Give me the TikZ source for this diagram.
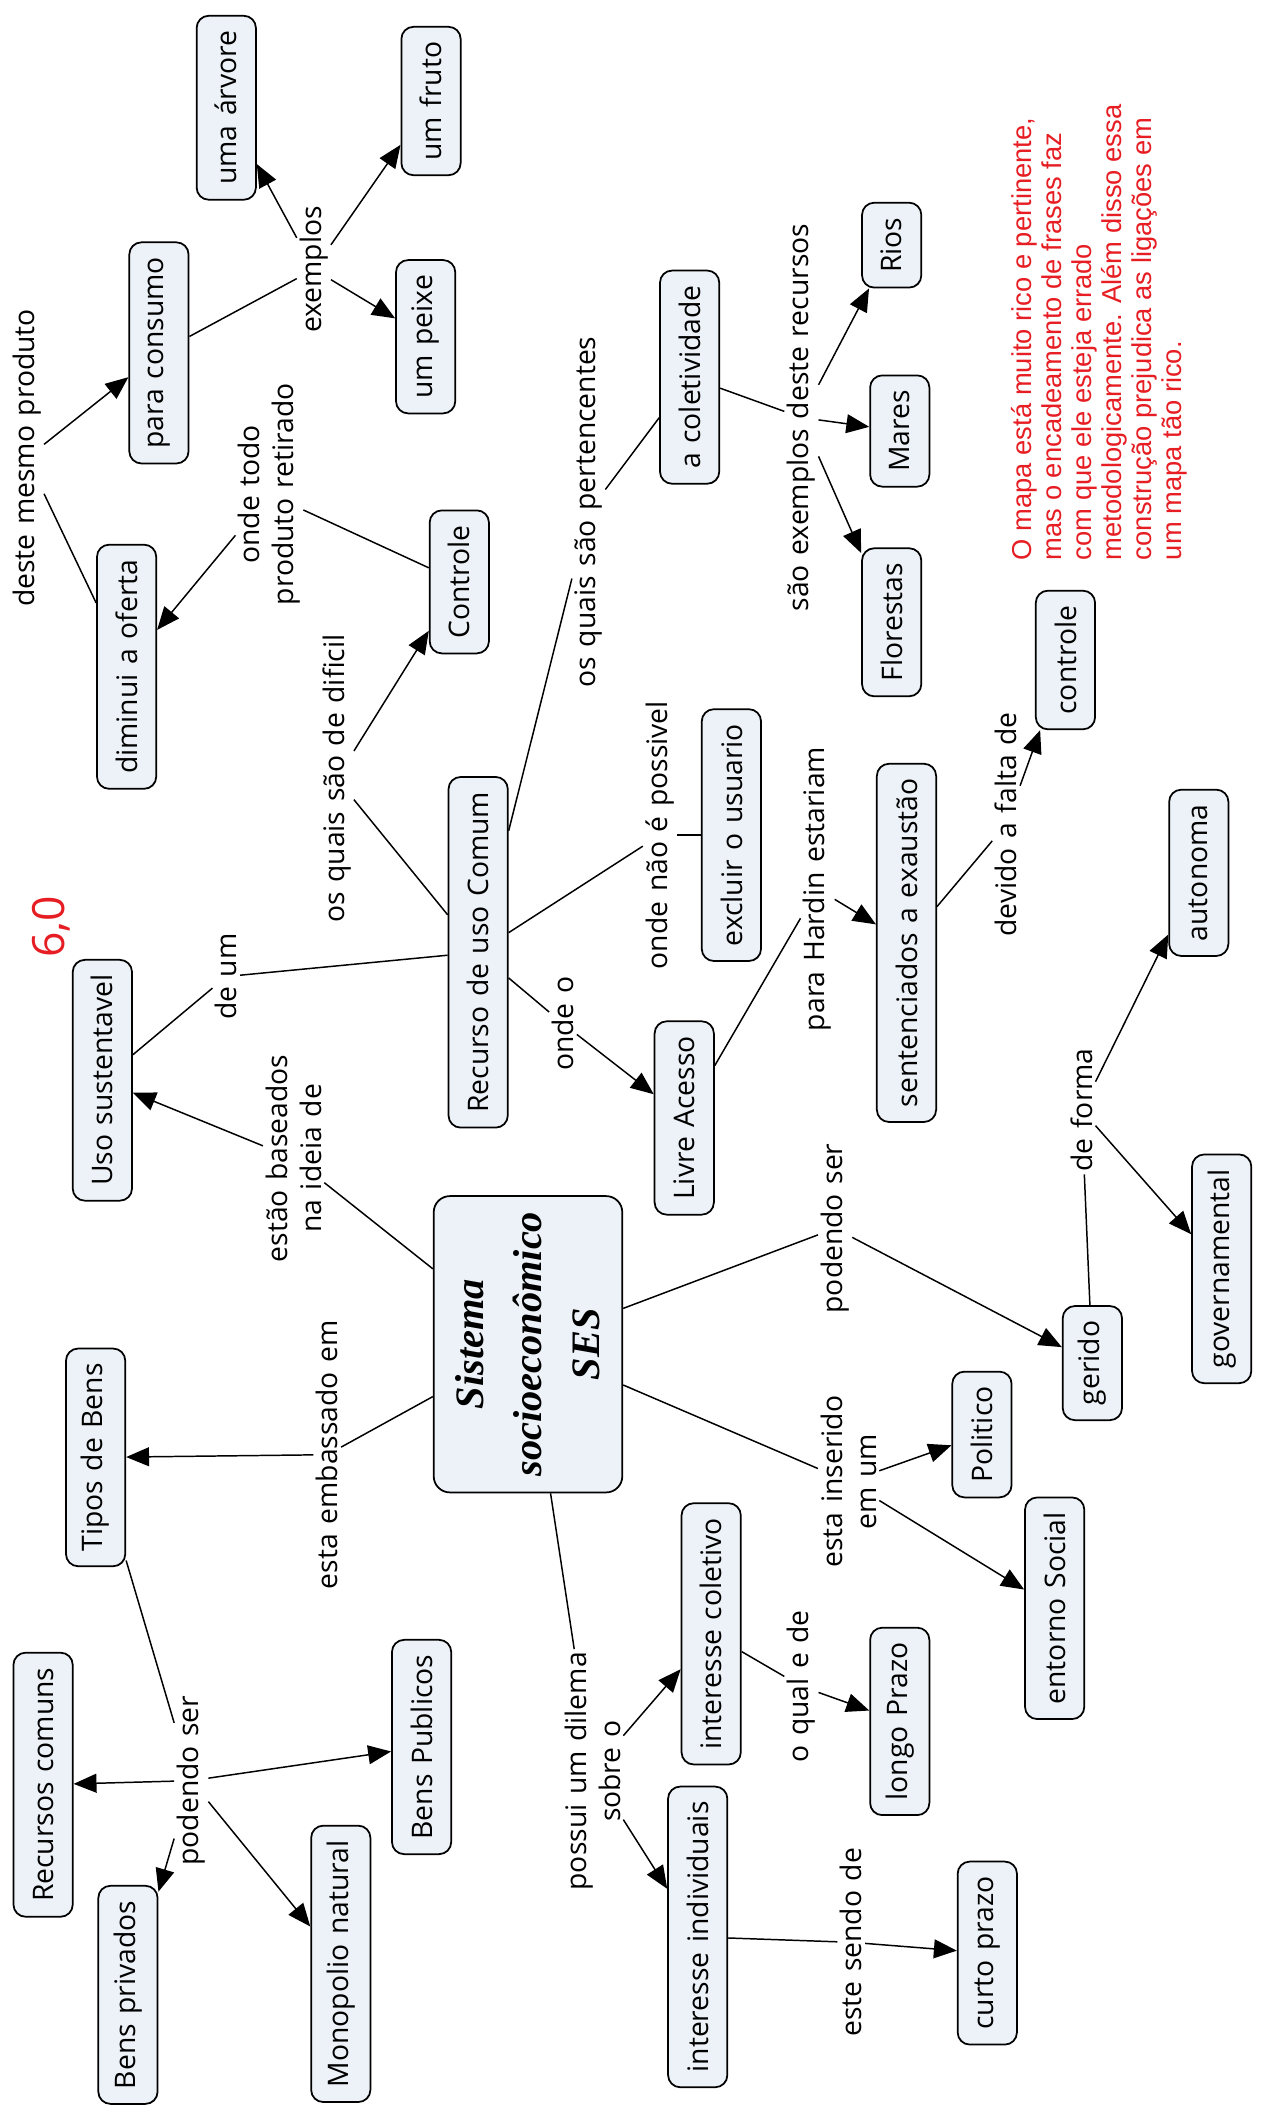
\documentclass[tikz,border=0pt]{standalone}
\usepackage{fontspec}
\setmainfont{Open Sans}[WordSpace=1.3]
\newfontfamily\redfont{Liberation Sans}
\newfontfamily\sesfont{Liberation Serif}
\usetikzlibrary{arrows.meta}
\definecolor{cfill}{RGB}{236,242,247}
\definecolor{cred}{RGB}{230,30,36}
\begin{document}
\begin{tikzpicture}[x=1pt,y=-1pt,
  concept/.style={draw=black, line width=1.3pt, fill=cfill, rounded corners=9pt, rotate=90,
    minimum height=44pt, inner xsep=11pt, inner ysep=3pt, font=\fontsize{21}{25}\selectfont},
  lbl/.style={rotate=90, inner sep=2pt, font=\fontsize{21}{25}\selectfont, align=center},
  link/.style={line width=1.1pt},
  arr/.style={link, -{Triangle[length=17pt,width=14pt]}}]
\useasboundingbox (0,0) rectangle (940,1568);

% concepts
\node[concept] (ua) at (168,80) {uma  árvore};
\node[concept] (uf) at (320,75) {um fruto};
\node[concept] (pc) at (118,262) {para  consumo};
\node[concept] (up) at (316,250) {um peixe};
\node[concept] (do) at (94,495) {diminui  a  oferta};
\node[concept] (co) at (341,432) {Controle};
\node[concept] (ac) at (512,280) {a coletividade};
\node[concept] (ri) at (662,182) {Rios};
\node[concept] (ma) at (668,320) {Mares};
\node[concept] (fl) at (662,462) {Florestas};
\node[concept] (rc) at (355,707) {Recurso de uso Comum};
\node[concept] (us) at (76,802) {Uso  sustentavel};
\node[concept] (eu) at (543,620) {excluir o usuario};
\node[concept] (sa) at (673,700) {sentenciados  a  exaustão};
\node[concept] (ct) at (791,490) {controle};
\node[concept] (la) at (508,830) {Livre  Acesso};
\node[concept] (au) at (890,648) {autonoma};
\node[concept, minimum width=220pt, minimum height=140pt, rounded corners=12pt,
  font=\sesfont\bfseries\itshape\fontsize{30}{43}\selectfont, align=center] (ses) at (392,998)
  {Sistema\\socioeconômico\\SES};
\node[concept] (tb) at (71,1082) {Tipos  de  Bens};
\node[concept] (ge) at (811,1012) {gerido};
\node[concept] (go) at (907,942) {governamental};
\node[concept] (po) at (729,1065) {Politico};
\node[concept] (es) at (783,1194) {entorno Social};
\node[concept] (ic) at (528,1213) {interesse  coletivo};
\node[concept] (lp) at (668,1278) {longo  Prazo};
\node[concept] (ii) at (518,1438) {interesse  individuais};
\node[concept] (cp) at (733,1450) {curto  prazo};
\node[concept] (rcm) at (32,1325) {Recursos  comuns};
\node[concept] (bp) at (95,1481) {Bens  privados};
\node[concept] (mn) at (253,1458) {Monopolio  natural};
\node[concept] (bpu) at (313,1297) {Bens  Publicos};

% linking phrases
\node[lbl] (ex) at (233,200) {exemplos};
\node[lbl] (dm) at (20,340) {deste  mesmo produto};
\node[lbl] (ot) at (200,367) {onde todo\\produto retirado};
\node[lbl] (qd) at (250,578) {os quais são de dificil};
\node[lbl] (qp) at (437,380) {os quais são pertencentes};
\node[lbl] (se) at (595,310) {são exemplos deste recursos};
\node[lbl] (du) at (168,725) {de um};
\node[lbl] (np) at (490,620) {onde não é possivel};
\node[lbl] (ph) at (607,660) {para Hardin estariam};
\node[lbl] (df) at (747,612) {devido a falta de};
\node[lbl] (oo) at (418,760) {onde o};
\node[lbl] (eb) at (218,860) {estão  baseados\\na  ideia de};
\node[lbl] (em) at (243,1080) {esta embassado em};
\node[lbl] (ps) at (620,912) {podendo ser};
\node[lbl] (fo) at (803,824) {de forma};
\node[lbl] (ei) at (630,1100) {esta inserido\\em um};
\node[lbl] (oq) at (595,1252) {o qual e de};
\node[lbl] (pd) at (440,1315) {possui um dilema\\sobre o};
\node[lbl] (sd) at (632,1442) {este sendo de};
\node[lbl] (ps2) at (142,1322) {podendo ser};

% notes
\node[rotate=90, inner sep=0pt, text=cred, font=\fontsize{33}{36}\selectfont] (six) at (38,688) {6,0};
\node[rotate=90, anchor=north west, inner sep=0pt, align=left, text=cred,
  font=\redfont\fontsize{20.3}{22.2}\selectfont] (note) at (751,416)
  {O mapa está muito rico e pertinente,\\mas o encadeamento de frases faz\\com que ele esteja errado\\metodologicamente. Além disso essa\\construção prejudica as ligações em\\um mapa tão rico.};

% connectors
\draw[link] (pc) -- (ex);
\draw[arr] (ex) -- (ua);
\draw[arr] (ex) -- (uf);
\draw[arr] (ex) -- (up);
\draw[link] (do) -- (dm);
\draw[arr] (dm) -- (pc);
\draw[link] (co) -- (ot);
\draw[arr] (ot) -- (do);
\draw[link] (rc) -- (qd);
\draw[arr] (qd) -- (co);
\draw[link] (rc) -- (qp);
\draw[link] (qp) -- (ac);
\draw[link] (ac) -- (se);
\draw[arr] (se) -- (ri);
\draw[arr] (se) -- (ma);
\draw[arr] (se) -- (fl);
\draw[link] (rc) -- (du);
\draw[link] (du) -- (us);
\draw[link] (rc) -- (np);
\draw[link] (np) -- (eu);
\draw[link] (rc) -- (oo);
\draw[arr] (oo) -- (la);
\draw[link] (la) -- (ph);
\draw[arr] (ph) -- (sa);
\draw[link] (sa) -- (df);
\draw[arr] (df) -- (ct);
\draw[link] (ses) -- (eb);
\draw[arr] (eb) -- (us);
\draw[link] (ses) -- (em);
\draw[arr] (em) -- (tb);
\draw[link] (tb) -- (ps2);
\draw[arr] (ps2) -- (rcm);
\draw[arr] (ps2) -- (bpu);
\draw[arr] (ps2) -- (bp);
\draw[arr] (ps2) -- (mn);
\draw[link] (ses) -- (ps);
\draw[arr] (ps) -- (ge);
\draw[link] (ge) -- (fo);
\draw[arr] (fo) -- (au);
\draw[arr] (fo) -- (go);
\draw[link] (ses) -- (ei);
\draw[arr] (ei) -- (po);
\draw[arr] (ei) -- (es);
\draw[link] (ses) -- (pd);
\draw[arr] (pd) -- (ic);
\draw[arr] (pd) -- (ii);
\draw[link] (ic) -- (oq);
\draw[arr] (oq) -- (lp);
\draw[link] (ii) -- (sd);
\draw[arr] (sd) -- (cp);
\end{tikzpicture}
\end{document}
